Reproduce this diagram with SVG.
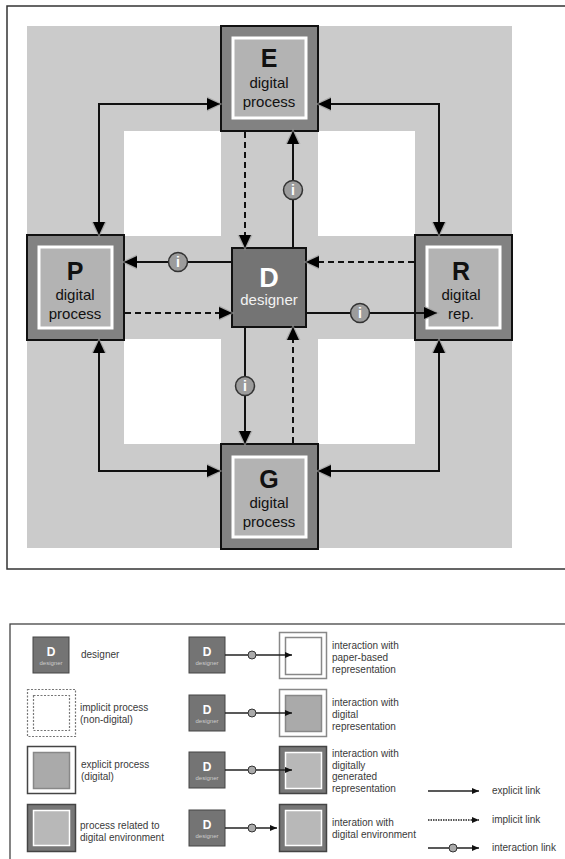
<svg xmlns="http://www.w3.org/2000/svg" width="565" height="859" viewBox="0 0 565 859">
<defs>
<marker id="ah" viewBox="0 0 16 16" refX="13" refY="8" markerWidth="16" markerHeight="16" orient="auto-start-reverse" markerUnits="userSpaceOnUse">
<path d="M-1,0 L15.5,8 L-1,16 z" fill="#9a9a9a" opacity="0.7"/>
<path d="M0,2 L13,8 L0,14 z" fill="#000"/>
</marker>
<marker id="sh" viewBox="0 0 8 8" refX="7" refY="4" markerWidth="8" markerHeight="8" orient="auto" markerUnits="userSpaceOnUse">
<path d="M0,1 L7,4 L0,7 z" fill="#111"/>
</marker>
</defs>
<style>
.frame{fill:#fff;stroke:#333;stroke-width:1.5}
.outer{fill:#828282;stroke:#111;stroke-width:2}
.inner{fill:#b3b3b3;stroke:#fff;stroke-width:3}
.dnode{fill:#747474;stroke:#111;stroke-width:2}
.big{font-family:"Liberation Sans",Arial,sans-serif;font-weight:bold;font-size:25px;text-anchor:middle;fill:#111}
.sub{font-family:"Liberation Sans",Arial,sans-serif;font-size:15px;text-anchor:middle;fill:#111}
.wbig{font-family:"Liberation Sans",Arial,sans-serif;font-weight:bold;font-size:27px;text-anchor:middle;fill:#fff}
.wsub{font-family:"Liberation Sans",Arial,sans-serif;font-size:15px;text-anchor:middle;fill:#f2f2f2}
.ln{fill:none;stroke:#111;stroke-width:2}
.dash{fill:none;stroke:#111;stroke-width:2;stroke-dasharray:6,4}
.ic{fill:#9c9c9c;stroke:#333;stroke-width:1.5}
.it{font-family:"Liberation Sans",Arial,sans-serif;font-weight:bold;font-size:14px;text-anchor:middle;fill:#fff}
.lt{font-family:"Liberation Sans",Arial,sans-serif;font-size:10px;fill:#3a3a3a}
.ld{fill:#747474;stroke:#444;stroke-width:1}
.ldt{font-family:"Liberation Sans",Arial,sans-serif;font-weight:bold;font-size:12px;text-anchor:middle;fill:#fff}
.lds{font-family:"Liberation Sans",Arial,sans-serif;font-size:6px;text-anchor:middle;fill:#ccc}
.lln{fill:none;stroke:#222;stroke-width:1.3}
.lic{fill:#aaa;stroke:#333;stroke-width:1}
.lo-w{fill:#fff;stroke:#888;stroke-width:1.5}
.lo-k{fill:#fff;stroke:#444;stroke-width:1.5}
.lo-d{fill:#777;stroke:#444;stroke-width:1.5}
.li-g{fill:#aaa;stroke:#888;stroke-width:1.5}
.li-l{fill:#b8b8b8;stroke:#fff;stroke-width:1.5}
.dsh{fill:#fff;stroke:#777;stroke-width:1.2;stroke-dasharray:2,1.5}
</style>

<rect class="frame" x="7" y="6" width="572" height="563"/>
<rect x="27" y="26" width="485" height="522" fill="#cbcbcb"/>
<rect x="124" y="131" width="97" height="105" fill="#fff"/>
<rect x="318" y="131" width="97" height="105" fill="#fff"/>
<rect x="124" y="339" width="97" height="105" fill="#fff"/>
<rect x="318" y="339" width="97" height="105" fill="#fff"/>

<g id="node-E">
<rect class="outer" x="221" y="26" width="97" height="105"/>
<rect class="inner" x="233" y="38" width="73" height="80"/>
<text class="big" x="269" y="67">E</text>
<text class="sub" x="269" y="88">digital</text>
<text class="sub" x="269" y="107">process</text>
</g>
<g id="node-P">
<rect class="outer" x="27" y="235" width="97" height="105"/>
<rect class="inner" x="39" y="247" width="73" height="81"/>
<text class="big" x="75" y="280">P</text>
<text class="sub" x="75" y="300">digital</text>
<text class="sub" x="75" y="319">process</text>
</g>
<g id="node-R">
<rect class="outer" x="415" y="235" width="97" height="105"/>
<rect class="inner" x="427" y="247" width="73" height="81"/>
<text class="big" x="461" y="280">R</text>
<text class="sub" x="461" y="300">digital</text>
<text class="sub" x="461" y="319">rep.</text>
</g>
<g id="node-G">
<rect class="outer" x="221" y="444" width="97" height="105"/>
<rect class="inner" x="233" y="457" width="73" height="80"/>
<text class="big" x="269" y="488">G</text>
<text class="sub" x="269" y="508">digital</text>
<text class="sub" x="269" y="527">process</text>
</g>
<g id="node-D">
<rect class="dnode" x="232" y="248" width="74" height="79"/>
<text class="wbig" x="269" y="287">D</text>
<text class="wsub" x="269" y="305">designer</text>
</g>

<g id="connectors">
<path class="ln" d="M99,235 V104 H220" marker-start="url(#ah)" marker-end="url(#ah)"/>
<path class="ln" d="M318,104 H439 V235" marker-start="url(#ah)" marker-end="url(#ah)"/>
<path class="ln" d="M99,340 V471 H220" marker-start="url(#ah)" marker-end="url(#ah)"/>
<path class="ln" d="M439,340 V471 H318" marker-start="url(#ah)" marker-end="url(#ah)"/>
<path class="dash" d="M245,132 V248" marker-end="url(#ah)"/>
<path class="ln" d="M293,247 V131" marker-end="url(#ah)"/>
<path class="ln" d="M231,262 H124" marker-end="url(#ah)"/>
<path class="dash" d="M414,262 H306" marker-end="url(#ah)"/>
<path class="dash" d="M125,313 H232" marker-end="url(#ah)"/>
<path class="ln" d="M307,313 H437" marker-end="url(#ah)"/>
<path class="ln" d="M245,328 V444" marker-end="url(#ah)"/>
<path class="dash" d="M293,443 V327" marker-end="url(#ah)"/>
<circle class="ic" cx="293" cy="190" r="9.5"/><text class="it" x="293" y="195">i</text>
<circle class="ic" cx="178" cy="262" r="9.5"/><text class="it" x="178" y="267">i</text>
<circle class="ic" cx="360" cy="313" r="9.5"/><text class="it" x="360" y="318">i</text>
<circle class="ic" cx="245" cy="386" r="9.5"/><text class="it" x="245" y="391">i</text>
</g>

<g id="legend">
<rect x="10" y="624" width="570" height="250" fill="#fff" stroke="#444" stroke-width="1.3"/>

<g id="leg-designer">
<rect class="ld" x="33" y="637" width="36" height="36"/>
<text class="ldt" x="51" y="656">D</text>
<text class="lds" x="51" y="665">designer</text>
<text class="lt" x="81" y="658">designer</text>
</g>
<g id="leg-implicit">
<rect class="dsh" x="27.5" y="689.5" width="48" height="47"/>
<rect class="dsh" x="33.5" y="695.5" width="36" height="35"/>
<text class="lt" x="80" y="711">implicit process</text>
<text class="lt" x="80" y="723">(non-digital)</text>
</g>
<g id="leg-explicit">
<rect class="lo-k" x="27.5" y="746.5" width="48" height="47"/>
<rect class="li-g" x="33.5" y="752.5" width="36" height="36"/>
<text class="lt" x="81" y="768">explicit process</text>
<text class="lt" x="81" y="780">(digital)</text>
</g>
<g id="leg-env">
<rect class="lo-d" x="27.5" y="804.5" width="48" height="47"/>
<rect class="li-l" x="33.5" y="810.5" width="36" height="35"/>
<text class="lt" x="80" y="829">process related to</text>
<text class="lt" x="80" y="841">digital environment</text>
</g>

<g id="leg-paper">
<rect class="ld" x="189" y="637" width="36" height="36"/>
<text class="ldt" x="207" y="656">D</text>
<text class="lds" x="207" y="665">designer</text>
<rect class="lo-w" x="279.5" y="632.5" width="47" height="46"/>
<rect class="lo-w" x="285.5" y="637.5" width="36" height="37"/>
<path class="lln" d="M225,655 H292" marker-end="url(#sh)"/>
<circle class="lic" cx="252" cy="655" r="4"/>
<text class="lt" x="332" y="649">interaction with</text>
<text class="lt" x="332" y="661">paper-based</text>
<text class="lt" x="332" y="673">representation</text>
</g>
<g id="leg-digital">
<rect class="ld" x="189" y="695" width="36" height="36"/>
<text class="ldt" x="207" y="714">D</text>
<text class="lds" x="207" y="723">designer</text>
<rect class="lo-w" x="279.5" y="689.5" width="47" height="47"/>
<rect class="li-g" x="285.5" y="695.5" width="36" height="36"/>
<path class="lln" d="M225,713 H292" marker-end="url(#sh)"/>
<circle class="lic" cx="252" cy="713" r="4"/>
<text class="lt" x="332" y="706">interaction with</text>
<text class="lt" x="332" y="718">digital</text>
<text class="lt" x="332" y="730">representation</text>
</g>
<g id="leg-generated">
<rect class="ld" x="189" y="752" width="36" height="36"/>
<text class="ldt" x="207" y="771">D</text>
<text class="lds" x="207" y="780">designer</text>
<rect class="lo-d" x="279.5" y="746.5" width="47" height="47"/>
<rect class="li-l" x="285.5" y="752.5" width="36" height="36"/>
<path class="lln" d="M225,770 H292" marker-end="url(#sh)"/>
<circle class="lic" cx="252" cy="770" r="4"/>
<text class="lt" x="332" y="757">interaction with</text>
<text class="lt" x="332" y="769">digitally</text>
<text class="lt" x="332" y="780">generated</text>
<text class="lt" x="332" y="792">representation</text>
</g>
<g id="leg-environment">
<rect class="ld" x="189" y="810" width="36" height="36"/>
<text class="ldt" x="207" y="829">D</text>
<text class="lds" x="207" y="838">designer</text>
<rect class="lo-d" x="279.5" y="804.5" width="47" height="47"/>
<rect class="li-l" x="285.5" y="810.5" width="36" height="35"/>
<path class="lln" d="M225,828 H277" marker-end="url(#sh)"/>
<circle class="lic" cx="252" cy="828" r="4"/>
<text class="lt" x="332" y="826">interation with</text>
<text class="lt" x="332" y="838">digital environment</text>
</g>

<g id="leg-links">
<path class="lln" d="M428,791 H479" marker-end="url(#sh)"/>
<text class="lt" x="492" y="794">explicit link</text>
<path class="lln" d="M428,820 H479" stroke-dasharray="1.5,1" marker-end="url(#sh)"/>
<text class="lt" x="492" y="823">implicit link</text>
<path class="lln" d="M428,848 H479" marker-end="url(#sh)"/>
<circle class="lic" cx="453" cy="848" r="4"/>
<text class="lt" x="492" y="851">interaction link</text>
</g>
</g>
</svg>
